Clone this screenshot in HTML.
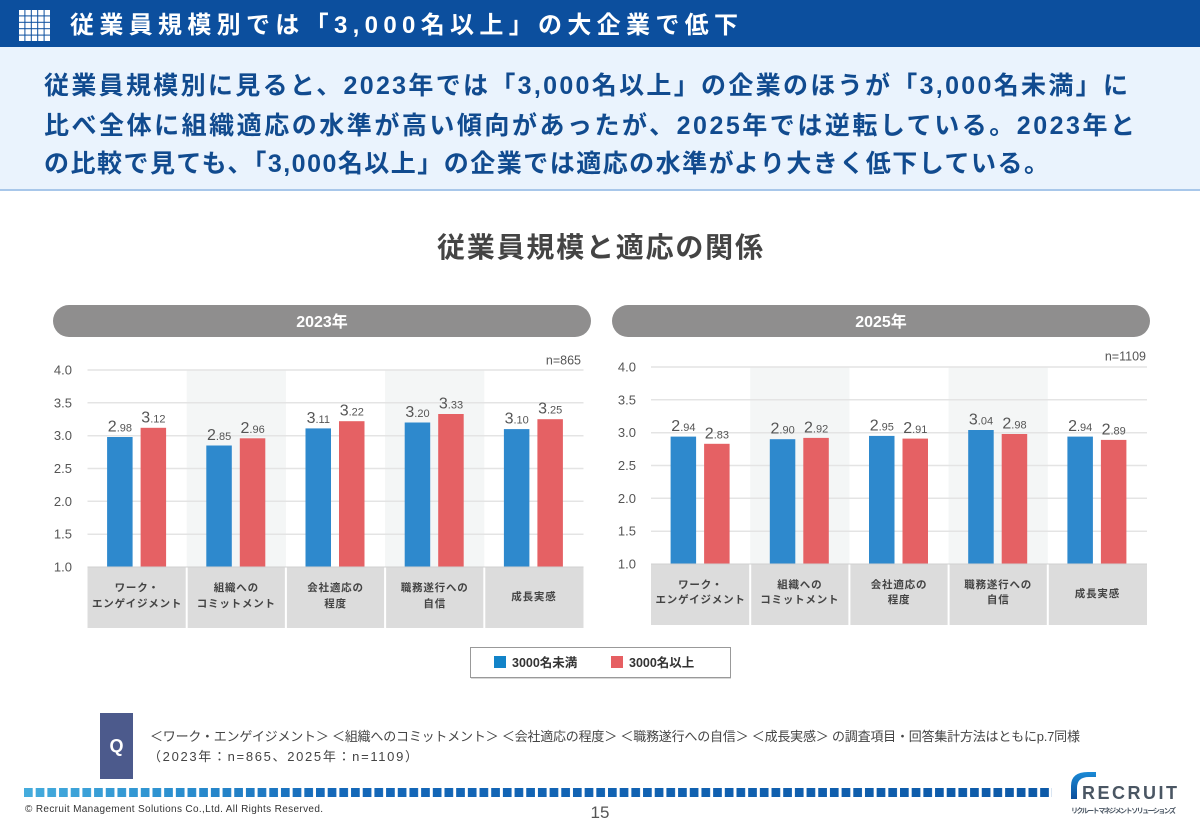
<!DOCTYPE html>
<html><head><meta charset="utf-8">
<style>
html,body{margin:0;padding:0;background:#fff;}
body{width:1200px;height:831px;overflow:hidden;}
svg{display:block;font-family:"Liberation Sans","Noto Sans CJK JP",sans-serif;}
</style></head>
<body>
<svg width="1200" height="831" viewBox="0 0 1200 831" xmlns="http://www.w3.org/2000/svg">
<defs>
<linearGradient id="dg" x1="24" y1="0" x2="1052" y2="0" gradientUnits="userSpaceOnUse">
<stop offset="0" stop-color="#45acdd"/>
<stop offset="0.15" stop-color="#2b8fcf"/>
<stop offset="0.3" stop-color="#1468b9"/>
<stop offset="1" stop-color="#0d5aa8"/>
</linearGradient>
<pattern id="gap" x="24" y="0" width="11.68" height="20" patternUnits="userSpaceOnUse">
<rect x="8.7" y="0" width="2.98" height="20" fill="#fff"/>
</pattern>
<linearGradient id="arc" x1="0" y1="0" x2="0" y2="1">
<stop offset="0" stop-color="#1a8ad6"/><stop offset="1" stop-color="#0b4f9c"/>
</linearGradient>
</defs>

<!-- Header -->
<rect x="0" y="0" width="1200" height="47" fill="#0c4f9e"/>
<g fill="#fff">
<rect x="19" y="10" width="5.4" height="5.4"/><rect x="25.4" y="10" width="5.4" height="5.4"/><rect x="31.8" y="10" width="5.4" height="5.4"/><rect x="38.2" y="10" width="5.4" height="5.4"/><rect x="44.6" y="10" width="5.4" height="5.4"/>
<rect x="19" y="16.4" width="5.4" height="5.4"/><rect x="25.4" y="16.4" width="5.4" height="5.4"/><rect x="31.8" y="16.4" width="5.4" height="5.4"/><rect x="38.2" y="16.4" width="5.4" height="5.4"/><rect x="44.6" y="16.4" width="5.4" height="5.4"/>
<rect x="19" y="22.8" width="5.4" height="5.4"/><rect x="25.4" y="22.8" width="5.4" height="5.4"/><rect x="31.8" y="22.8" width="5.4" height="5.4"/><rect x="38.2" y="22.8" width="5.4" height="5.4"/><rect x="44.6" y="22.8" width="5.4" height="5.4"/>
<rect x="19" y="29.2" width="5.4" height="5.4"/><rect x="25.4" y="29.2" width="5.4" height="5.4"/><rect x="31.8" y="29.2" width="5.4" height="5.4"/><rect x="38.2" y="29.2" width="5.4" height="5.4"/><rect x="44.6" y="29.2" width="5.4" height="5.4"/>
<rect x="19" y="35.6" width="5.4" height="5.4"/><rect x="25.4" y="35.6" width="5.4" height="5.4"/><rect x="31.8" y="35.6" width="5.4" height="5.4"/><rect x="38.2" y="35.6" width="5.4" height="5.4"/><rect x="44.6" y="35.6" width="5.4" height="5.4"/>
</g>
<text x="70" y="33" font-size="24" font-weight="bold" fill="#fff" textLength="668" lengthAdjust="spacing">従業員規模別では「3,000名以上」の大企業で低下</text>

<!-- Light panel -->
<rect x="0" y="47" width="1200" height="143" fill="#eaf3fd"/>
<rect x="0" y="189" width="1200" height="2" fill="#a8c7ea"/>
<g font-size="25" font-weight="bold" fill="#114b8f">
<text x="44" y="94" textLength="1084" lengthAdjust="spacing">従業員規模別に見ると、2023年では「3,000名以上」の企業のほうが「3,000名未満」に</text>
<text x="44" y="134" textLength="1091" lengthAdjust="spacing">比べ全体に組織適応の水準が高い傾向があったが、2025年では逆転している。2023年と</text>
<text x="44" y="172" textLength="1005" lengthAdjust="spacing">の比較で見ても、「3,000名以上」の企業では適応の水準がより大きく低下している。</text>
</g>

<!-- Chart title -->
<text x="437" y="257" font-size="28" font-weight="bold" fill="#444" textLength="326" lengthAdjust="spacing">従業員規模と適応の関係</text>

<!-- Pills -->
<rect x="53" y="305" width="538" height="32" rx="16" fill="#8f8e8e"/>
<text x="322" y="327" font-size="16" font-weight="bold" fill="#fff" text-anchor="middle">2023年</text>
<rect x="612" y="305" width="538" height="32" rx="16" fill="#8f8e8e"/>
<text x="881" y="327" font-size="16" font-weight="bold" fill="#fff" text-anchor="middle">2025年</text>

<!-- ===== 2023 chart ===== -->
<rect x="186.7" y="370" width="99.2" height="197" fill="#f4f6f6"/>
<rect x="385.1" y="370" width="99.2" height="197" fill="#f4f6f6"/>
<g stroke="#e4e4e4" stroke-width="1.5">
<line x1="87.5" x2="583.5" y1="370" y2="370"/>
<line x1="87.5" x2="583.5" y1="402.8" y2="402.8"/>
<line x1="87.5" x2="583.5" y1="435.7" y2="435.7"/>
<line x1="87.5" x2="583.5" y1="468.5" y2="468.5"/>
<line x1="87.5" x2="583.5" y1="501.3" y2="501.3"/>
<line x1="87.5" x2="583.5" y1="534.2" y2="534.2"/>
</g>
<g font-size="13" fill="#555" text-anchor="end">
<text x="72" y="374.5">4.0</text>
<text x="72" y="407.3">3.5</text>
<text x="72" y="440.2">3.0</text>
<text x="72" y="473">2.5</text>
<text x="72" y="505.8">2.0</text>
<text x="72" y="538.7">1.5</text>
<text x="72" y="571.5">1.0</text>
</g>
<text x="581" y="364.5" font-size="12.5" fill="#555" text-anchor="end">n=865</text>
<g fill="#2e89cd">
<rect x="107.1" y="437.0" width="25.5" height="130.0"/>
<rect x="206.3" y="445.5" width="25.5" height="121.5"/>
<rect x="305.5" y="428.4" width="25.5" height="138.6"/>
<rect x="404.7" y="422.5" width="25.5" height="144.5"/>
<rect x="503.9" y="429.1" width="25.5" height="137.9"/>
</g>
<g fill="#e56164">
<rect x="140.6" y="427.8" width="25.5" height="139.2"/>
<rect x="239.8" y="438.3" width="25.5" height="128.7"/>
<rect x="339.0" y="421.2" width="25.5" height="145.8"/>
<rect x="438.2" y="414.0" width="25.5" height="153.0"/>
<rect x="537.4" y="419.2" width="25.5" height="147.8"/>
</g>
<g fill="#555" text-anchor="middle" font-size="16">
<text x="119.9" y="431.5">2<tspan font-size="11">.98</tspan></text>
<text x="153.4" y="422.3">3<tspan font-size="11">.12</tspan></text>
<text x="219.1" y="440">2<tspan font-size="11">.85</tspan></text>
<text x="252.6" y="432.8">2<tspan font-size="11">.96</tspan></text>
<text x="318.3" y="422.9">3<tspan font-size="11">.11</tspan></text>
<text x="351.8" y="415.7">3<tspan font-size="11">.22</tspan></text>
<text x="417.5" y="417">3<tspan font-size="11">.20</tspan></text>
<text x="451.0" y="408.5">3<tspan font-size="11">.33</tspan></text>
<text x="516.7" y="423.6">3<tspan font-size="11">.10</tspan></text>
<text x="550.2" y="413.7">3<tspan font-size="11">.25</tspan></text>
</g>
<rect x="87.5" y="567" width="496" height="61" fill="#dcdcdc"/>
<g fill="#fff">
<rect x="185.7" y="567" width="2" height="61"/>
<rect x="284.9" y="567" width="2" height="61"/>
<rect x="384.1" y="567" width="2" height="61"/>
<rect x="483.3" y="567" width="2" height="61"/>
</g>
<line x1="87.5" x2="583.5" y1="567" y2="567" stroke="#d0d0d0" stroke-width="1"/>
<g font-size="10.5" font-weight="bold" fill="#444" text-anchor="middle" letter-spacing="0.8">
<text x="137.1" y="591">ワーク・</text>
<text x="137.1" y="607">エンゲイジメント</text>
<text x="236.3" y="591">組織への</text>
<text x="236.3" y="607">コミットメント</text>
<text x="335.5" y="591">会社適応の</text>
<text x="335.5" y="607">程度</text>
<text x="434.7" y="591">職務遂行への</text>
<text x="434.7" y="607">自信</text>
<text x="533.9" y="600">成長実感</text>
</g>

<!-- ===== 2025 chart ===== -->
<rect x="750.2" y="367" width="99.2" height="197" fill="#f4f6f6"/>
<rect x="948.6" y="367" width="99.2" height="197" fill="#f4f6f6"/>
<g stroke="#e4e4e4" stroke-width="1.5">
<line x1="651" x2="1147" y1="367" y2="367"/>
<line x1="651" x2="1147" y1="399.8" y2="399.8"/>
<line x1="651" x2="1147" y1="432.7" y2="432.7"/>
<line x1="651" x2="1147" y1="465.5" y2="465.5"/>
<line x1="651" x2="1147" y1="498.3" y2="498.3"/>
<line x1="651" x2="1147" y1="531.2" y2="531.2"/>
</g>
<g font-size="13" fill="#555" text-anchor="end">
<text x="636" y="371.5">4.0</text>
<text x="636" y="404.3">3.5</text>
<text x="636" y="437.2">3.0</text>
<text x="636" y="470">2.5</text>
<text x="636" y="502.8">2.0</text>
<text x="636" y="535.7">1.5</text>
<text x="636" y="568.5">1.0</text>
</g>
<text x="1146" y="360.5" font-size="12.5" fill="#555" text-anchor="end">n=1109</text>
<g fill="#2e89cd">
<rect x="670.6" y="436.6" width="25.5" height="127.4"/>
<rect x="769.8" y="439.2" width="25.5" height="124.8"/>
<rect x="869.0" y="435.9" width="25.5" height="128.1"/>
<rect x="968.2" y="430.0" width="25.5" height="134.0"/>
<rect x="1067.4" y="436.6" width="25.5" height="127.4"/>
</g>
<g fill="#e56164">
<rect x="704.1" y="443.8" width="25.5" height="120.2"/>
<rect x="803.3" y="437.9" width="25.5" height="126.1"/>
<rect x="902.5" y="438.6" width="25.5" height="125.4"/>
<rect x="1001.7" y="434.0" width="25.5" height="130.0"/>
<rect x="1100.9" y="439.9" width="25.5" height="124.1"/>
</g>
<g fill="#555" text-anchor="middle" font-size="16">
<text x="683.4" y="431.1">2<tspan font-size="11">.94</tspan></text>
<text x="716.9" y="438.3">2<tspan font-size="11">.83</tspan></text>
<text x="782.6" y="433.7">2<tspan font-size="11">.90</tspan></text>
<text x="816.1" y="432.4">2<tspan font-size="11">.92</tspan></text>
<text x="881.8" y="430.4">2<tspan font-size="11">.95</tspan></text>
<text x="915.3" y="433.1">2<tspan font-size="11">.91</tspan></text>
<text x="981.0" y="424.5">3<tspan font-size="11">.04</tspan></text>
<text x="1014.5" y="428.5">2<tspan font-size="11">.98</tspan></text>
<text x="1080.2" y="431.1">2<tspan font-size="11">.94</tspan></text>
<text x="1113.7" y="434.4">2<tspan font-size="11">.89</tspan></text>
</g>
<rect x="651" y="564" width="496" height="61" fill="#dcdcdc"/>
<g fill="#fff">
<rect x="749.2" y="564" width="2" height="61"/>
<rect x="848.4" y="564" width="2" height="61"/>
<rect x="947.6" y="564" width="2" height="61"/>
<rect x="1046.8" y="564" width="2" height="61"/>
</g>
<line x1="651" x2="1147" y1="564" y2="564" stroke="#d0d0d0" stroke-width="1"/>
<g font-size="10.5" font-weight="bold" fill="#444" text-anchor="middle" letter-spacing="0.8">
<text x="700.6" y="588">ワーク・</text>
<text x="700.6" y="603">エンゲイジメント</text>
<text x="799.8" y="588">組織への</text>
<text x="799.8" y="603">コミットメント</text>
<text x="899.0" y="588">会社適応の</text>
<text x="899.0" y="603">程度</text>
<text x="998.2" y="588">職務遂行への</text>
<text x="998.2" y="603">自信</text>
<text x="1097.4" y="597">成長実感</text>
</g>

<!-- Legend -->
<rect x="470.5" y="647.5" width="260" height="30" fill="#fff" stroke="#999" stroke-width="1"/>
<line x1="471" x2="731" y1="678.5" y2="678.5" stroke="#d8d8d8" stroke-width="1"/>
<rect x="494" y="656" width="12" height="12" fill="#1283c8"/>
<text x="512" y="667" font-size="12.5" font-weight="bold" fill="#333">3000名未満</text>
<rect x="611" y="656" width="12" height="12" fill="#e65f62"/>
<text x="629" y="667" font-size="12.5" font-weight="bold" fill="#333">3000名以上</text>

<!-- Footnote -->
<rect x="100" y="713" width="33" height="66" fill="#4c5a8c"/>
<text x="116.5" y="752" font-size="18" font-weight="bold" fill="#fff" text-anchor="middle">Q</text>
<text x="150" y="741" font-size="13" fill="#444" textLength="930" lengthAdjust="spacing">＜ワーク・エンゲイジメント＞ ＜組織へのコミットメント＞ ＜会社適応の程度＞ ＜職務遂行への自信＞ ＜成長実感＞ の調査項目・回答集計方法はともにp.7同様</text>
<text x="148" y="761" font-size="13" fill="#444" textLength="270" lengthAdjust="spacing">（2023年：n=865、2025年：n=1109）</text>

<!-- Dashes -->
<rect x="24" y="788" width="1028" height="9" fill="url(#dg)"/>
<rect x="24" y="786" width="1030" height="13" fill="url(#gap)"/>

<text x="25" y="812" font-size="10" fill="#333" textLength="298" lengthAdjust="spacing">© Recruit Management Solutions Co.,Ltd. All Rights Reserved.</text>
<text x="600" y="818" font-size="17" fill="#555" text-anchor="middle">15</text>

<!-- Logo -->
<path d="M1071 799 L1071 786 Q1071 772 1088 772 L1096 772 L1096 777 L1089 777 Q1077 777 1077 788 L1077 799 Z" fill="url(#arc)"/>
<text x="1082" y="799" font-size="18" font-weight="bold" fill="#4a5663" textLength="95" lengthAdjust="spacing">RECRUIT</text>
<text x="1071" y="813" font-size="7" font-weight="bold" fill="#4a5663" textLength="105" lengthAdjust="spacing">リクルート マネジメント ソリューションズ</text>
</svg>
</body></html>
